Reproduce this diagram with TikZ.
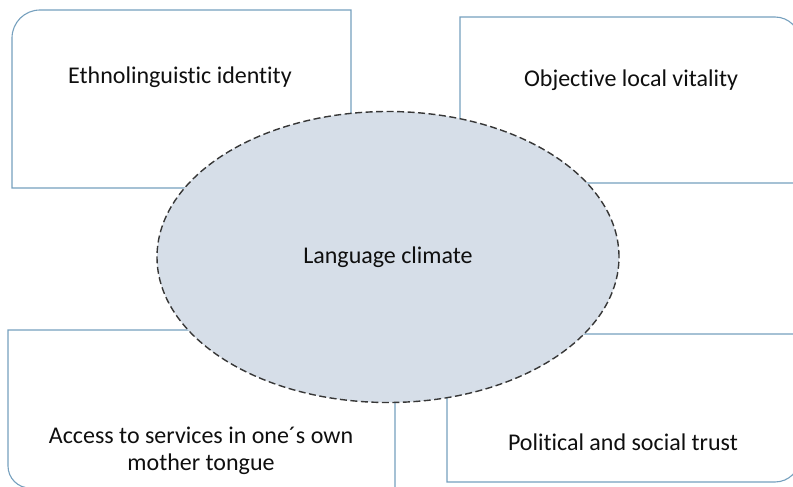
\documentclass[tikz,border=0pt]{standalone}
\usepackage{fontspec}
\setmainfont{Carlito}[Ligatures=NoCommon]
\usetikzlibrary{shapes.geometric}
\definecolor{boxline}{RGB}{118,160,190}
\definecolor{ellfill}{RGB}{214,222,232}
\definecolor{ellline}{RGB}{55,55,55}
\definecolor{txt}{RGB}{15,15,15}
\begin{document}
\begin{tikzpicture}[x=1pt,y=-1pt,
  factorbox/.style={draw=boxline,line width=1.1pt,fill=white},
  label/.style={text=txt,font=\fontsize{24}{27.5}\selectfont,align=center,inner sep=0pt},
  climate/.style={ellipse,draw=ellline,fill=ellfill,line width=1.4pt,
    dash pattern=on 7pt off 3.5pt,minimum width=462pt,minimum height=291pt,inner sep=0pt}]
\useasboundingbox (0,0) rectangle (793,487);

% four factor boxes, each with its outer corner rounded (y axis points down)
\draw[factorbox] (12,188) -- (12,38) arc[start angle=180,end angle=270,radius=28] -- (351,10) -- (351,188) -- cycle;
\draw[factorbox] (460,183) -- (460,17) -- (775,17) arc[start angle=270,end angle=360,radius=25] -- (800,183) -- cycle;
\draw[factorbox] (8,330) -- (395,330) -- (395,488) -- (30,488) arc[start angle=90,end angle=180,radius=22] -- cycle;
\draw[factorbox] (447,334) -- (800,334) -- (800,457) arc[start angle=0,end angle=90,radius=25] -- (447,482) -- cycle;

\node[label] (ident) at (180,77) {Ethnolinguistic identity};
\node[label] (vital) at (631,80) {Objective local vitality};
\node[label] (access) at (201,451) {Access to services in one´s own\\mother tongue};
\node[label] (trust) at (623,442) {Political and social trust};

% central concept
\node[climate] (lang) at (388,257) {};
\node[label] at (lang.center) {Language climate};
\end{tikzpicture}
\end{document}
